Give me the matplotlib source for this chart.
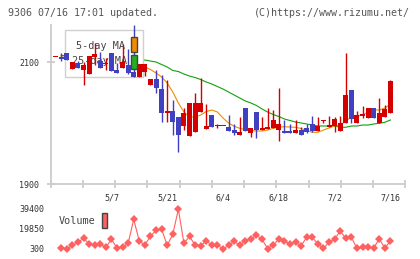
import numpy as np
import matplotlib
matplotlib.use("Agg")
import matplotlib.pyplot as plt
from matplotlib.patches import Rectangle

# ---------------- data ----------------
opens = [2108, 2109, 2114, 2089, 2099, 2087, 2081, 2109, 2102, 2096,
         2114, 2087, 2090, 2095, 2084, 2075, 2083, 2062, 2072, 2056,
         2017, 2020, 2010, 1995, 1979, 1986, 2018, 1990, 2013, 1994.5,
         1994.5, 1993, 1988, 1981, 2024, 1984, 2018, 1988, 1990, 1992,
         1988, 1987, 1987, 1984, 1988, 1992, 1999, 1987, 2003, 1993,
         1995, 1987, 1999.5, 2054, 1999.5, 2011.5, 2009, 2024, 1999.5, 2010,
         2016]
closes = [2108.5, 2105, 2104, 2100, 2091, 2095, 2110, 2113, 2091, 2099,
          2086, 2082, 2100, 2082, 2075, 2097, 2097, 2072, 2057, 2017,
          2020, 2002, 1980, 2017, 2032, 2032, 2032, 1995, 1994, 1995.5,
          1995.5, 1987, 1983, 1986, 1987, 1991, 1988, 1992, 1994, 2005,
          1998, 1984, 1984, 1988, 1980, 1986, 1987, 1995, 2005, 1996,
          2007, 1999.5, 2046, 2006, 2013, 2015, 2024, 2009, 2016, 2022.5,
          2069]
highs = [2108.5, 2115, 2114, 2100, 2102, 2100, 2110, 2131, 2116, 2107,
         2114, 2098, 2130, 2122, 2160, 2097, 2097, 2072, 2087, 2079,
         2070, 2038, 2010, 2025, 2032, 2050, 2073, 2031, 2013, 1998,
         1995.5, 2013, 1998, 2010, 2024, 1991, 2018, 2010, 2024, 2022,
         2057, 2005, 1999, 2005, 1994, 1999, 2011, 2010, 2005, 2011,
         2010, 2011.5, 2115, 2054, 2020, 2028, 2024, 2024, 2040.5, 2029.5,
         2070.5]
lows = [2108, 2102, 2104, 2089, 2091, 2062, 2081, 2095, 2091, 2087,
        2085, 2082, 2090, 2081, 2075, 2075, 2077, 2062, 2050, 2002,
        2002, 1980, 1953, 1988, 1979, 1986, 2018, 1990, 1994, 1991,
        1994.5, 1987, 1980, 1981, 1987, 1977, 1975, 1988, 1990, 1992,
        1971, 1984, 1984, 1984, 1980, 1983, 1986, 1987, 1999.5, 1993,
        1986, 1987, 1999.5, 1999.5, 1999.5, 2009, 2009, 2009, 1999.5, 2010,
        2016]

# 5-day and 25-day moving averages (index 1..60)
ma5 = [2108.7, 2107, 2104, 2101.5, 2099, 2100, 2102, 2101, 2103, 2100,
       2095, 2093, 2090, 2088, 2087, 2091.8, 2087.7, 2082, 2075.4, 2065.6,
       2050.8, 2032.8, 2018, 2009.8, 2009.8, 2013.1, 2018.9, 2021.3, 2018, 2008.2,
       2000, 1994.6, 1991.3, 1989.3, 1987.7, 1986.9, 1986.9, 1988.5, 1991.3, 1993.4,
       1993.9, 1993.4, 1993, 1991, 1987.7, 1984.8, 1984.8, 1988.5, 1991.8, 1995.1,
       1996.2, 2003.3, 2009.8, 2011.5, 2013.1, 2018, 2021.3, 2021.3, 2024.6, 2031.1]
ma25 = [2111, 2110, 2109, 2108, 2107, 2107, 2106, 2106, 2105, 2105,
        2104, 2104, 2104, 2103.5, 2103.5, 2103.3, 2101.6, 2100, 2095.9, 2091.8,
        2086.1, 2084.4, 2080.3, 2077, 2074.6, 2071.3, 2067.2, 2063.9, 2059.8, 2055.7,
        2050.8, 2045.9, 2041, 2036.1, 2032.8, 2028.7, 2023, 2018, 2013.9, 2010.7,
        2006.6, 2004.1, 2001.6, 2000, 1998.4, 1996.7, 1995.1, 1995.1, 1995.1, 1995.1,
        1993, 1993, 1995.1, 1995.1, 1996.7, 1996.7, 1998.4, 1999.5, 2001.2, 2004.9]

# volume (index 1..60)
volume = [985, 300, 3900, 6850, 10760, 5190, 4210, 4890, 1960, 9780,
          1280, 1960, 5870, 29330, 7830, 4500, 12700, 18580, 19560, 3900,
          14670, 39100, 5870, 12700, 3900, 3230, 8440, 3900, 4210, 300,
          3900, 7830, 3900, 8440, 10370, 13690, 9780, 600, 4210, 9780,
          8120, 5480, 6850, 3530, 11740, 11740, 5190, 985, 6850, 9780,
          17900, 10760, 11740, 985, 1960, 1960, 1280, 10080, 1280, 8120]

date_labels = ["5/7", "5/21", "6/4", "6/18", "7/2", "7/16"]
date_index = [10, 20, 30, 40, 50, 60]
price_ticks = [1900, 2100]
volume_ticks = [300, 19850, 39400]

# ---------------- style ----------------
UP = "#d40000"
DOWN = "#4040c0"
ORANGE = "#f08c00"
GREEN = "#10a010"
VOLC = "#ff6060"
AXC = "#cccccc"
TXT = "#333333"
MONO = "DejaVu Sans Mono"

W, H = 420, 259
fig = plt.figure(figsize=(W / 100, H / 100), dpi=100)
fig.patch.set_facecolor("white")


def fx(px):
    return px / W


def fy(py):
    return 1 - py / H


n = len(opens)
idx = np.arange(n)
xl = (-0.88, 62.67)

ax = fig.add_axes([fx(50.7), fy(184), fx(405.3) - fx(50.7), fy(25) - fy(184)])
ax.set_xlim(*xl)
ax.set_ylim(1900, 2160.7)
for s in ["top", "right"]:
    ax.spines[s].set_visible(False)
for s in ["left", "bottom"]:
    ax.spines[s].set_color(AXC)
    ax.spines[s].set_linewidth(1.3)

ax.set_xticks(np.linspace(xl[0], xl[1], 12))
ax.set_xticklabels([])
ax.set_xticks(date_index, minor=True)
ax.set_xticklabels(date_labels, minor=True)
ax.tick_params(axis="x", which="major", direction="inout", length=6, width=1.3, color=AXC)
ax.tick_params(axis="x", which="minor", length=0, pad=7, labelsize=6, labelcolor=TXT)
ax.set_yticks(price_ticks)
ax.set_yticklabels([str(t) for t in price_ticks])
ax.tick_params(axis="y", direction="inout", length=6, width=1.3, color=AXC,
               pad=5.2, labelsize=6, labelcolor=TXT)
for lab in ax.get_xticklabels(minor=True) + ax.get_yticklabels():
    lab.set_family(MONO)

# moving averages
ax.plot(idx[1:], ma25, color=GREEN, lw=0.8, zorder=1)
ax.plot(idx[1:], ma5, color=ORANGE, lw=0.8, zorder=1)

# legend box (under candles, above MA lines)
ax.add_patch(Rectangle((fx(65), fy(77.3)), fx(143.3) - fx(65), fy(30) - fy(77.3),
                       transform=fig.transFigure, facecolor="white", edgecolor="#d0d0d0",
                       lw=1.0, zorder=2, clip_on=False))
ax.text(fx(76), fy(46), "5-day MA", transform=fig.transFigure, family=MONO,
        fontsize=7.3, color="#444444", va="center", ha="left", zorder=2.5)
ax.text(fx(71.7), fy(61.5), "25-day MA", transform=fig.transFigure, family=MONO,
        fontsize=7.3, color="#444444", va="center", ha="left", zorder=2.5)

# candles
o = np.array(opens)
c = np.array(closes)
hi = np.array(highs)
lo = np.array(lows)
cols = [UP if cc >= oo else DOWN for oo, cc in zip(o, c)]
ax.vlines(idx, lo, hi, colors=cols, lw=1.0, zorder=3)
bottom = np.minimum(o, c)
height = np.maximum(np.abs(c - o), 1.6)
ax.bar(idx, height, bottom=bottom, width=0.9, color=cols, linewidth=0, zorder=3.5)

# legend markers
ax.add_patch(Rectangle((fx(131), fy(52)), fx(137) - fx(131), fy(37) - fy(52),
                       transform=fig.transFigure, facecolor=ORANGE, edgecolor="#444444",
                       lw=1.0, zorder=4, clip_on=False))
ax.add_patch(Rectangle((fx(131), fy(69)), fx(137) - fx(131), fy(54.7) - fy(69),
                       transform=fig.transFigure, facecolor="#20b020", edgecolor="#444444",
                       lw=1.0, zorder=4, clip_on=False))

# ---------------- volume ----------------
vax = fig.add_axes([fx(50.7), fy(253), fx(405.3) - fx(50.7), fy(205) - fy(253)])
vax.set_xlim(*xl)
vax.set_ylim(-3610, 43310)
for s in vax.spines.values():
    s.set_visible(False)
vax.set_xticks([])
vax.set_yticks(volume_ticks)
vax.set_yticklabels([str(t) for t in volume_ticks])
vax.tick_params(axis="y", length=0, pad=4.8, labelsize=6, labelcolor=TXT)
for lab in vax.get_yticklabels():
    lab.set_family(MONO)
vax.plot(idx[1:], volume, color=VOLC, lw=0.8, marker="D", markersize=4.0,
         markeredgewidth=0, zorder=3)
vax.text(fx(59), fy(221.5), "Volume", transform=fig.transFigure, family=MONO,
         fontsize=7.3, color="#444444", va="center", ha="left")
vax.add_patch(Rectangle((fx(101.7), fy(228)), fx(107.3) - fx(101.7), fy(213) - fy(228),
                        transform=fig.transFigure, facecolor=VOLC, edgecolor="#444444",
                        lw=1.0, zorder=4, clip_on=False))

# header texts
fig.text(fx(8), fy(12.5), "9306 07/16 17:01 updated.", family=MONO, fontsize=7.2,
         color="#555555", va="center", ha="left")
fig.text(fx(410), fy(12.5), "(C)https://www.rizumu.net/", family=MONO, fontsize=7.2,
         color="#555555", va="center", ha="right")

fig.savefig("out.png", dpi=100, facecolor="white")
